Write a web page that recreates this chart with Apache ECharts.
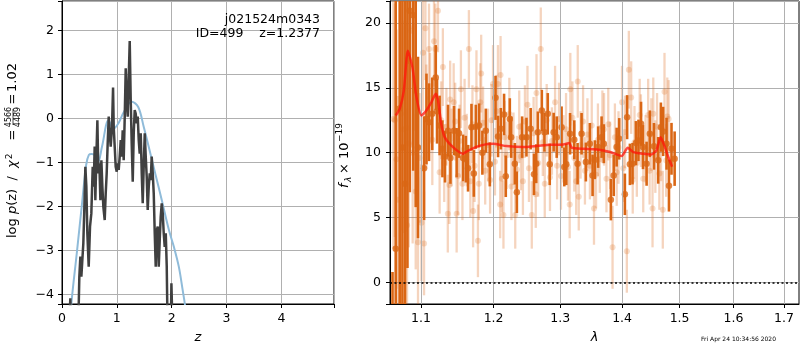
<!DOCTYPE html>
<html><head><meta charset="utf-8">
<script src="https://cdn.jsdelivr.net/npm/echarts@6/dist/echarts.min.js"></script>
<style>html,body{margin:0;padding:0;background:#fff}#c{width:800px;height:350px}</style>
</head><body><div id="c"></div>
<script>
// ---------- left panel: redshift probability ----------
const pzZ   = [0.12,0.152,0.17,0.292,0.316,0.335,0.353,0.371,0.389,0.408,0.426,0.444,0.462,0.487,0.511,0.535,0.56,0.578,0.596,0.608,0.627,0.645,0.663,0.681,0.70,0.718,0.736,0.754,0.779,0.797,0.815,0.833,0.852,0.870,0.888,0.912,0.931,0.943,0.961,0.979,0.998,1.016,1.034,1.052,1.071,1.089,1.107,1.125,1.144,1.162,1.18,1.198,1.217,1.235,1.253,1.271,1.29,1.308,1.326,1.344,1.363,1.381,1.399,1.417,1.436,1.454,1.472,1.49,1.509,1.527,1.545,1.563,1.582,1.60,1.618,1.636,1.655,1.673,1.691,1.709,1.727,1.746,1.764,1.782,1.80,1.819,1.837,1.855,1.873,1.892,1.91,1.928,1.983,1.995,2.007,2.02];
const pzLog = [-5,-4.09,-5,-5,-3.60,-3.14,-3.60,-3.22,-2.84,-2.01,-1.10,-1.55,-2.61,-3.37,-2.46,-2.16,-1.10,-1.55,-0.64,-1.86,-0.87,-0.04,-1.25,-1.02,-1.86,-0.95,-1.55,-2.01,-2.31,-1.71,-1.25,-0.57,0.04,-0.34,-0.64,-0.19,0.70,-0.19,-0.64,-1.10,-1.21,-1.02,-1.17,-0.87,-0.49,-0.87,-0.27,-0.95,0.04,1.14,0.42,0.04,0.95,1.76,0.42,-0.57,-1.44,-0.34,0.19,0.11,-0.11,0.04,-0.49,-0.80,-0.34,-1.25,-1.93,-1.10,-0.34,-0.87,-1.33,-2.08,-1.55,-1.25,-1.40,-0.87,-1.25,-1.71,-2.61,-3.37,-2.54,-2.46,-3.37,-2.77,-2.24,-1.93,-2.16,-2.61,-2.92,-2.61,-3.37,-5,-5,-3.75,-3.75,-5];
const priorZ   = [0.15,0.17,0.27,0.36,0.44,0.49,0.54,0.58,0.62,0.66,0.73,0.85,0.94,1.03,1.13,1.27,1.39,1.49,1.58,1.70,1.82,1.95,2.04,2.13,2.20,2.24,2.27];
const priorLog = [-4.7,-4.22,-3.06,-2.0,-1.06,-0.83,-0.81,-0.82,-0.88,-0.99,-0.64,-0.04,-0.23,-0.11,0.15,0.38,0.26,-0.19,-0.64,-1.25,-1.86,-2.54,-2.92,-3.37,-3.90,-4.22,-4.6];
const zTicks = [0,1,2,3,4];

// ---------- right panel: spectrum ----------
const lamTicks = [1.1,1.2,1.3,1.4,1.5,1.6,1.7];
const modelLam  = [1.0671,1.0722,1.0775,1.0827,1.0887,1.094,1.1005,1.107,1.1138,1.1196,1.1227,1.127,1.1317,1.143,1.157,1.1605,1.1745,1.1884,1.1993,1.2187,1.2437,1.2637,1.2842,1.3048,1.314,1.318,1.3365,1.3581,1.380,1.3993,1.4094,1.4189,1.436,1.4505,1.4592,1.4662,1.4738,1.4797,1.4866];
const modelFlux = [12.87,13.38,14.79,17.87,16.58,14.28,12.87,13.25,13.9,14.54,14.02,12.23,11.2,10.43,9.92,10.05,10.43,10.64,10.69,10.51,10.43,10.51,10.61,10.64,10.74,10.38,10.30,10.25,10.05,9.74,10.38,10.05,9.92,9.87,10.2,11.2,10.43,9.67,8.92];

const binLam = [1.063,1.0671,1.0722,1.0757,1.0791,1.0822,1.0852,1.0897,1.093,1.096,1.104,1.1072,1.1106,1.1149,1.1196,1.1213,1.1248,1.1286,1.1321,1.1362,1.1395,1.1444,1.148,1.1513,1.1569,1.1607,1.1638,1.1686,1.1719,1.1747,1.1793,1.184,1.1889,1.1946,1.2028,1.2065,1.2105,1.2152,1.2177,1.2236,1.2256,1.231,1.234,1.2418,1.2483,1.2546,1.2596,1.263,1.2655,1.2715,1.2755,1.2806,1.2836,1.2897,1.2944,1.302,1.3063,1.3094,1.3153,1.322,1.3272,1.3336,1.3405,1.3469,1.3513,1.355,1.3604,1.366,1.3697,1.3813,1.386,1.3909,1.3952,1.4047,1.4085,1.4132,1.4176,1.4234,1.4278,1.4322,1.4356,1.4418,1.4474,1.4546,1.462,1.4667,1.4707,1.4767,1.481,1.4855,1.4911];
const binFlux = [-4.0,2.6,13.4,10.4,7.6,17.1,20.95,20.6,14.8,10.4,8.8,12.6,12.35,13.0,15.8,13.2,12.1,10.3,9.7,11.7,9.6,11.7,10.0,11.5,9.6,9.5,8.8,11.97,8.4,12.0,12.1,10.0,11.7,9.1,14.23,11.25,11.85,12.95,8.18,12.6,11.2,9.15,6.95,11.2,11.2,11.85,8.33,9.15,11.58,13.25,11.58,13.0,9.1,11.58,11.2,11.97,8.9,9.1,11.46,11.0,9.15,11.46,9.28,10.69,8.25,9.46,10.43,11.2,10.69,6.38,8.25,10.43,11.07,6.79,12.74,9.1,9.15,10.74,10.95,12.23,10.43,9.15,11.46,10.49,9.41,11.97,11.64,10.69,7.46,10.3,9.54];
const binErr  = [4.8,22,20,20,18,16,14,12,9,7,4,3.5,3.0,2.8,2.5,2.5,2.3,2.2,2.0,2.0,2.0,1.9,1.9,1.9,1.8,1.8,1.8,1.8,1.8,1.7,1.7,1.7,1.7,1.7,1.7,1.6,1.6,1.6,1.6,1.6,1.6,1.6,1.6,1.6,1.5,1.6,1.6,1.5,1.6,1.6,1.5,1.6,1.6,1.5,1.6,1.6,1.5,1.6,1.6,1.5,1.6,1.6,1.5,1.6,1.6,1.5,1.6,1.6,1.5,1.6,1.6,1.5,1.6,1.6,1.7,1.6,1.6,1.7,1.6,1.7,1.7,1.7,1.8,1.8,1.8,1.9,1.9,2.0,2.0,2.0,2.1];

const rawLam = [1.064,1.066,1.068,1.070,1.074,1.077,1.079,1.081,1.0817,1.084,1.087,1.089,1.0909,1.093,1.096,1.098,1.1005,1.1026,1.104,1.1058,1.107,1.1106,1.112,1.115,1.1172,1.119,1.1226,1.1248,1.127,1.1292,1.131,1.134,1.1359,1.138,1.1391,1.141,1.1439,1.146,1.148,1.150,1.152,1.1539,1.156,1.159,1.162,1.165,1.167,1.170,1.1709,1.173,1.1756,1.1777,1.179,1.181,1.1823,1.185,1.188,1.192,1.195,1.197,1.1992,1.202,1.204,1.2063,1.2095,1.2101,1.212,1.2143,1.216,1.219,1.2229,1.226,1.229,1.2316,1.234,1.2375,1.240,1.243,1.246,1.2498,1.252,1.2563,1.259,1.2623,1.2634,1.266,1.2699,1.273,1.276,1.279,1.284,1.287,1.2919,1.295,1.298,1.301,1.305,1.309,1.312,1.3147,1.3157,1.319,1.322,1.325,1.3275,1.3291,1.332,1.336,1.339,1.343,1.347,1.350,1.3536,1.357,1.360,1.363,1.3673,1.370,1.374,1.377,1.380,1.3841,1.388,1.391,1.394,1.3999,1.402,1.405,1.408,1.4114,1.4154,1.418,1.421,1.425,1.4299,1.432,1.436,1.440,1.4445,1.447,1.450,1.4521,1.4534,1.457,1.460,1.464,1.467,1.4701,1.4731,1.476,1.478,1.4804];
const rawFlux = [12.6,12.5,9.5,6.38,13.0,11.8,20.0,11.9,4.4,10.7,19.4,10.0,19.7,7.0,3.1,9.6,4.6,17.7,3.0,19.6,12.8,18.0,14.2,11.0,18.6,18.0,20.95,8.5,12.5,16.6,9.2,12.0,5.3,7.5,14.1,10.4,13.9,12.4,5.3,8.2,10.9,14.9,7.6,12.7,10.2,18.0,7.8,12.2,5.5,9.0,14.9,3.2,7.6,13.9,16.1,12.3,8.6,10.6,7.9,12.5,15.3,9.3,13.2,15.3,6.0,16.0,8.0,5.2,11.2,9.8,12.98,7.4,10.3,5.2,8.7,12.0,9.7,7.8,12.4,13.7,8.8,5.2,11.5,6.8,14.6,9.2,18.0,10.8,7.6,12.5,8.1,10.9,13.9,9.0,12.6,8.2,10.3,11.8,8.9,6.0,14.9,12.7,9.6,7.8,15.5,6.6,10.6,12.4,8.6,11.4,9.0,12.1,5.7,8.3,11.0,9.5,12.0,11.8,8.0,12.2,9.8,2.7,11.2,8.5,10.4,13.9,8.8,11.6,2.4,16.4,14.25,7.9,10.8,9.2,12.9,11.7,8.0,10.3,12.9,8.6,11.4,5.7,13.0,9.7,12.0,8.4,10.6,5.6,14.7,9.4,12.8,12.6];
const rawErr  = [10,9,10,8,9,8,10,8,9,8,9,7,8,6,5,5,4.5,4.5,4,4,4,3.5,3.5,3.5,3.5,3.5,3.2,3.2,3,3,3,3,3,3,3,3,3,3,3,3,2.8,3,2.8,3,2.8,3,2.8,3,2.8,2.8,3,2.8,2.8,3,3,2.8,2.6,2.8,2.6,2.8,3,2.6,2.8,3,2.6,3,2.6,2.6,2.8,2.6,2.8,2.6,2.8,2.6,2.6,2.8,2.6,2.6,2.8,3,2.6,2.6,2.8,2.6,3,2.6,3.2,2.6,2.6,2.8,2.6,2.6,2.8,2.6,2.8,2.6,2.6,2.8,2.6,2.6,2.8,2.8,2.6,2.6,2.8,2.6,2.6,2.8,2.6,2.8,2.6,2.8,2.8,2.6,2.8,2.6,2.8,2.8,2.6,2.8,2.6,3.2,2.6,2.6,2.8,2.8,2.6,2.8,3.2,3,2.8,2.6,2.8,2.6,2.8,2.8,2.6,2.6,2.8,2.6,2.8,3,2.8,2.8,2.6,2.8,2.8,3,3,2.8,3,3];

// ---------- chart ----------
const F = 'DejaVu Sans';
const DARK = 'rgb(218,102,20)';
const LIGHT = 'rgba(218,102,20,0.28)';
const GRIDC = '#b0b0b0';
const fmtMinus = v => String(v).replace('-', '\u2212');

function errRender(color, w) {
  return function (params, api) {
    const x = api.value(0), y = api.value(1), e = api.value(2);
    const p1 = api.coord([x, y - e]), p2 = api.coord([x, y + e]);
    return { type: 'line', shape: { x1: p1[0], y1: p1[1], x2: p2[0], y2: p2[1] },
             style: { stroke: color, lineWidth: w } };
  };
}
const zip2 = (a, b) => a.map((v, i) => [v, b[i]]);
const zip3 = (a, b, c) => a.map((v, i) => [v, b[i], c[i]]);

const axisCommon = {
  axisLine: { show: true, onZero: false, lineStyle: { color: '#000', width: 1 } },
  axisTick: { show: true, inside: false, length: 4, lineStyle: { color: '#000', width: 1 } },
  axisLabel: { color: '#000', fontFamily: F, fontSize: 12.5 },
  splitLine: { show: true, lineStyle: { color: GRIDC, width: 1 } }
};

const chart = echarts.init(document.getElementById('c'), null, { renderer: 'canvas' });
chart.setOption({
  animation: false,
  backgroundColor: '#fff',
  grid: [
    { left: 62, top: 1, width: 272, height: 303, show: true, borderColor: '#000', borderWidth: 1, backgroundColor: 'transparent' },
    { left: 390, top: 1, width: 409, height: 303, show: true, borderColor: '#000', borderWidth: 1, backgroundColor: 'transparent' }
  ],
  xAxis: [
    Object.assign({}, axisCommon, {
      gridIndex: 0, type: 'value', min: 0, max: 4.96, interval: 1,
      axisLabel: Object.assign({}, axisCommon.axisLabel, { margin: 8,
        formatter: v => zTicks.includes(Math.round(v * 1000) / 1000) ? String(v) : '' }),
      name: 'z', nameLocation: 'middle', nameGap: 27,
      nameTextStyle: { fontFamily: F, fontSize: 13, fontStyle: 'italic', color: '#000' }
    }),
    Object.assign({}, axisCommon, {
      gridIndex: 1, type: 'log', logBase: 10, min: 1.0598, max: 1.731,
      axisTick: Object.assign({}, axisCommon.axisTick, { customValues: lamTicks }),
      axisLabel: Object.assign({}, axisCommon.axisLabel, { margin: 8, customValues: lamTicks,
        formatter: v => Number(v).toFixed(1) }),
      splitLine: { show: false },
      name: '\u03bb', nameLocation: 'middle', nameGap: 27,
      nameTextStyle: { fontFamily: F, fontSize: 13, fontStyle: 'italic', color: '#000' }
    })
  ],
  yAxis: [
    Object.assign({}, axisCommon, {
      gridIndex: 0, type: 'value', min: -4.22, max: 2.67, splitNumber: 6,
      axisLabel: Object.assign({}, axisCommon.axisLabel, { margin: 8,
        formatter: v => Math.abs(v - Math.round(v)) < 1e-6 ? fmtMinus(Math.round(v)) : '' })
    }),
    Object.assign({}, axisCommon, {
      gridIndex: 1, type: 'value', min: -1.67, max: 21.7, splitNumber: 5,
      axisLabel: Object.assign({}, axisCommon.axisLabel, { margin: 9,
        formatter: v => Math.abs(v / 5 - Math.round(v / 5)) < 1e-6 ? fmtMinus(Math.round(v)) : '' })
    })
  ],
  series: [
    { type: 'line', xAxisIndex: 0, yAxisIndex: 0, data: zip2(priorZ, priorLog), showSymbol: false,
      smooth: 0.35, lineStyle: { color: '#8fbbd9', width: 2 }, z: 3, silent: true },
    { type: 'line', xAxisIndex: 0, yAxisIndex: 0, data: zip2(pzZ, pzLog), showSymbol: false,
      lineStyle: { color: '#404040', width: 2.5 }, z: 4, silent: true },
    // grid lines for log axis and zero line
    { type: 'line', xAxisIndex: 1, yAxisIndex: 1, data: [], silent: true, z: 1,
      markLine: { silent: true, symbol: 'none', label: { show: false },
        lineStyle: { color: GRIDC, width: 1, type: 'solid' },
        data: lamTicks.map(v => ({ xAxis: v })) } },
    { type: 'custom', xAxisIndex: 1, yAxisIndex: 1, data: zip3(rawLam, rawFlux, rawErr),
      renderItem: errRender(LIGHT, 2.3), clip: true, z: 2, silent: true, encode: { x: 0, y: 1 } },
    { type: 'scatter', xAxisIndex: 1, yAxisIndex: 1, data: zip2(rawLam, rawFlux), symbolSize: 6,
      itemStyle: { color: LIGHT }, z: 2, silent: true, clip: true },
    { type: 'custom', xAxisIndex: 1, yAxisIndex: 1, data: zip3(binLam, binFlux, binErr),
      renderItem: errRender(DARK, 2.6), clip: true, z: 3, silent: true, encode: { x: 0, y: 1 } },
    { type: 'scatter', xAxisIndex: 1, yAxisIndex: 1, data: zip2(binLam, binFlux), symbolSize: 6.5,
      itemStyle: { color: DARK }, z: 3, silent: true, clip: true },
    { type: 'line', xAxisIndex: 1, yAxisIndex: 1, data: zip2(modelLam, modelFlux), showSymbol: false,
      smooth: 0.2, lineStyle: { color: 'rgba(255,20,10,0.75)', width: 2.5 }, z: 5, silent: true },
    { type: 'line', xAxisIndex: 1, yAxisIndex: 1, data: [], silent: true, z: 6,
      markLine: { silent: true, symbol: 'none', label: { show: false },
        lineStyle: { color: '#000', width: 1.5, type: [2, 2.5] },
        data: [{ yAxis: 0 }] } }
  ],
  graphic: [
    { type: 'text', z: 100, x: 320, y: 20, style: { text: 'j021524m0343', font: '12.5px "DejaVu Sans"', fill: '#000', align: 'right', verticalAlign: 'middle' } },
    { type: 'text', z: 100, x: 320, y: 34, style: { text: 'ID=499    z=1.2377', font: '12.5px "DejaVu Sans"', fill: '#000', align: 'right', verticalAlign: 'middle' } },
    { type: 'group', z: 100, x: 13, y: 153, rotation: Math.PI / 2, children: [
      { type: 'text', z: 100, x: -85, y: 0, style: { text: '{n|log }{i|p}{n|(z)  /  }{i|\u03c7}{s|2}', fill: '#000', align: 'left', verticalAlign: 'middle',
          rich: { n: { fontFamily: F, fontSize: 13 }, i: { fontFamily: F, fontSize: 13, fontStyle: 'italic' }, s: { fontFamily: F, fontSize: 9, padding: [0, 0, 7, 1] } } } },
      { type: 'text', z: 100, x: 18, y: 0, style: { text: '=', font: '13px "DejaVu Sans"', fill: '#000', align: 'center', verticalAlign: 'middle' } },
      { type: 'text', z: 100, x: 36, y: -4.5, style: { text: '4566', font: '8px "DejaVu Sans"', fill: '#000', align: 'center', verticalAlign: 'middle' } },
      { type: 'line', z: 100, shape: { x1: 28, y1: 0, x2: 44, y2: 0 }, style: { stroke: '#000', lineWidth: 0.7 } },
      { type: 'text', z: 100, x: 36, y: 5, style: { text: '4489', font: '8px "DejaVu Sans"', fill: '#000', align: 'center', verticalAlign: 'middle' } },
      { type: 'text', z: 100, x: 54, y: 0, style: { text: '=', font: '13px "DejaVu Sans"', fill: '#000', align: 'center', verticalAlign: 'middle' } },
      { type: 'text', z: 100, x: 61, y: 0, style: { text: '1.02', font: '13px "DejaVu Sans"', fill: '#000', align: 'left', verticalAlign: 'middle' } }
    ] },
    { type: 'group', z: 100, x: 345, y: 155, rotation: Math.PI / 2, children: [
      { type: 'text', z: 100, x: -33, y: 0, style: { text: 'f', font: 'italic 13px "DejaVu Sans"', fill: '#000', align: 'left', verticalAlign: 'middle' } },
      { type: 'text', z: 100, x: -27, y: 3.5, style: { text: '\u03bb', font: 'italic 9px "DejaVu Sans"', fill: '#000', align: 'left', verticalAlign: 'middle' } },
      { type: 'text', z: 100, x: -19, y: 0, style: { text: '\u00d7 10', font: '13px "DejaVu Sans"', fill: '#000', align: 'left', verticalAlign: 'middle' } },
      { type: 'text', z: 100, x: 13, y: -5, style: { text: '\u221219', font: '9px "DejaVu Sans"', fill: '#000', align: 'left', verticalAlign: 'middle' } }
    ] },
    { type: 'text', z: 100, x: 701, y: 339, style: { text: 'Fri Apr 24 10:34:56 2020', font: '6px "DejaVu Sans"', fill: '#000', align: 'left', verticalAlign: 'middle' } }
  ]
});
</script>
</body></html>
